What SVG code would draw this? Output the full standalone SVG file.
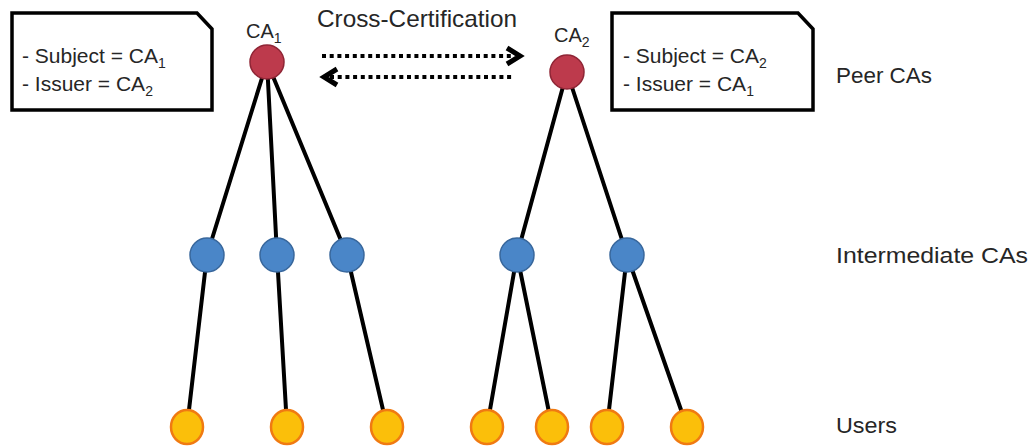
<svg xmlns="http://www.w3.org/2000/svg" width="1032" height="446" viewBox="0 0 1032 446">
<style>
  .t { font-family: "Liberation Sans", Arial, sans-serif; fill: #262626; }
  .box { fill: #ffffff; stroke: #000000; stroke-width: 3.5; stroke-linejoin: miter; }
  .edge { stroke: #000000; stroke-width: 4; fill: none; stroke-linecap: round; }
  .dots { stroke: #000000; stroke-width: 4; fill: none; stroke-dasharray: 4 3.7; }
  .head { stroke: #000000; stroke-width: 5; fill: none; stroke-linejoin: miter; stroke-linecap: butt; }
  .peer { fill: #bd3a4c; stroke: #8f2535; stroke-width: 1.5; }
  .mid { fill: #4a86c8; stroke: #38679c; stroke-width: 1.5; }
  .user { fill: #fbbf0a; stroke: #f07a12; stroke-width: 2.5; }
</style>

<g id="connectors">
  <line class="edge" x1="267" y1="62" x2="207" y2="255"/>
  <line class="edge" x1="267" y1="62" x2="277" y2="255"/>
  <line class="edge" x1="267" y1="62" x2="347" y2="255"/>
  <line class="edge" x1="567" y1="72" x2="517" y2="255"/>
  <line class="edge" x1="567" y1="72" x2="627" y2="255"/>
  <line class="edge" x1="207" y1="255" x2="187" y2="427"/>
  <line class="edge" x1="277" y1="255" x2="287" y2="427"/>
  <line class="edge" x1="347" y1="255" x2="387" y2="427"/>
  <line class="edge" x1="517" y1="255" x2="487" y2="427"/>
  <line class="edge" x1="517" y1="255" x2="552" y2="427"/>
  <line class="edge" x1="627" y1="255" x2="607" y2="427"/>
  <line class="edge" x1="627" y1="255" x2="687" y2="427"/>
  <g id="cross-cert-arrows">
    <line class="dots" x1="322" y1="56" x2="512" y2="56"/>
    <path class="head" d="M507,48 L520,56 L507,64"/>
    <line class="dots" x1="330" y1="77" x2="514" y2="77"/>
    <path class="head" d="M337,69 L324,77 L337,85"/>
  </g>
</g>

<g id="cert-box-1">
  <path class="box" d="M12,13 H197 L212,29 V110 H12 Z"/>
  <text class="t" x="22" y="63" font-size="21">- Subject = CA<tspan font-size="14" dy="5">1</tspan></text>
  <text class="t" x="22" y="91" font-size="21">- Issuer = CA<tspan font-size="14" dy="5">2</tspan></text>
</g>

<g id="cert-box-2">
  <path class="box" d="M612,13 H798 L813,29 V110 H612 Z"/>
  <text class="t" x="623" y="63" font-size="21">- Subject = CA<tspan font-size="14" dy="5">2</tspan></text>
  <text class="t" x="623" y="91" font-size="21">- Issuer = CA<tspan font-size="14" dy="5">1</tspan></text>
</g>

<g id="label-cross">
  <text class="t" x="317" y="27" font-size="24" textLength="200" lengthAdjust="spacingAndGlyphs">Cross-Certification</text>
</g>

<g id="ca1">
  <circle class="peer" cx="267" cy="62" r="17"/>
  <text class="t" x="246" y="38" font-size="20">CA<tspan font-size="14" dy="5">1</tspan></text>
</g>
<g id="ca2">
  <circle class="peer" cx="567" cy="72" r="17"/>
  <text class="t" x="554" y="42" font-size="20">CA<tspan font-size="14" dy="5">2</tspan></text>
</g>

<g id="int1"><circle class="mid" cx="207" cy="255" r="17"/></g>
<g id="int2"><circle class="mid" cx="277" cy="255" r="17"/></g>
<g id="int3"><circle class="mid" cx="347" cy="255" r="17"/></g>
<g id="int4"><circle class="mid" cx="517" cy="255" r="17"/></g>
<g id="int5"><circle class="mid" cx="627" cy="255" r="17"/></g>

<g id="user1"><ellipse class="user" cx="187" cy="427" rx="16" ry="17"/></g>
<g id="user2"><ellipse class="user" cx="287" cy="427" rx="16" ry="17"/></g>
<g id="user3"><ellipse class="user" cx="387" cy="427" rx="16" ry="17"/></g>
<g id="user4"><ellipse class="user" cx="487" cy="427" rx="16" ry="17"/></g>
<g id="user5"><ellipse class="user" cx="552" cy="427" rx="16" ry="17"/></g>
<g id="user6"><ellipse class="user" cx="607" cy="427" rx="16" ry="17"/></g>
<g id="user7"><ellipse class="user" cx="687" cy="427" rx="16" ry="17"/></g>

<g id="level-labels">
  <text class="t" x="836" y="83" font-size="22" textLength="96" lengthAdjust="spacingAndGlyphs">Peer CAs</text>
  <text class="t" x="836" y="263" font-size="22" textLength="192" lengthAdjust="spacingAndGlyphs">Intermediate CAs</text>
  <text class="t" x="836" y="433" font-size="22" textLength="61" lengthAdjust="spacingAndGlyphs">Users</text>
</g>
</svg>
